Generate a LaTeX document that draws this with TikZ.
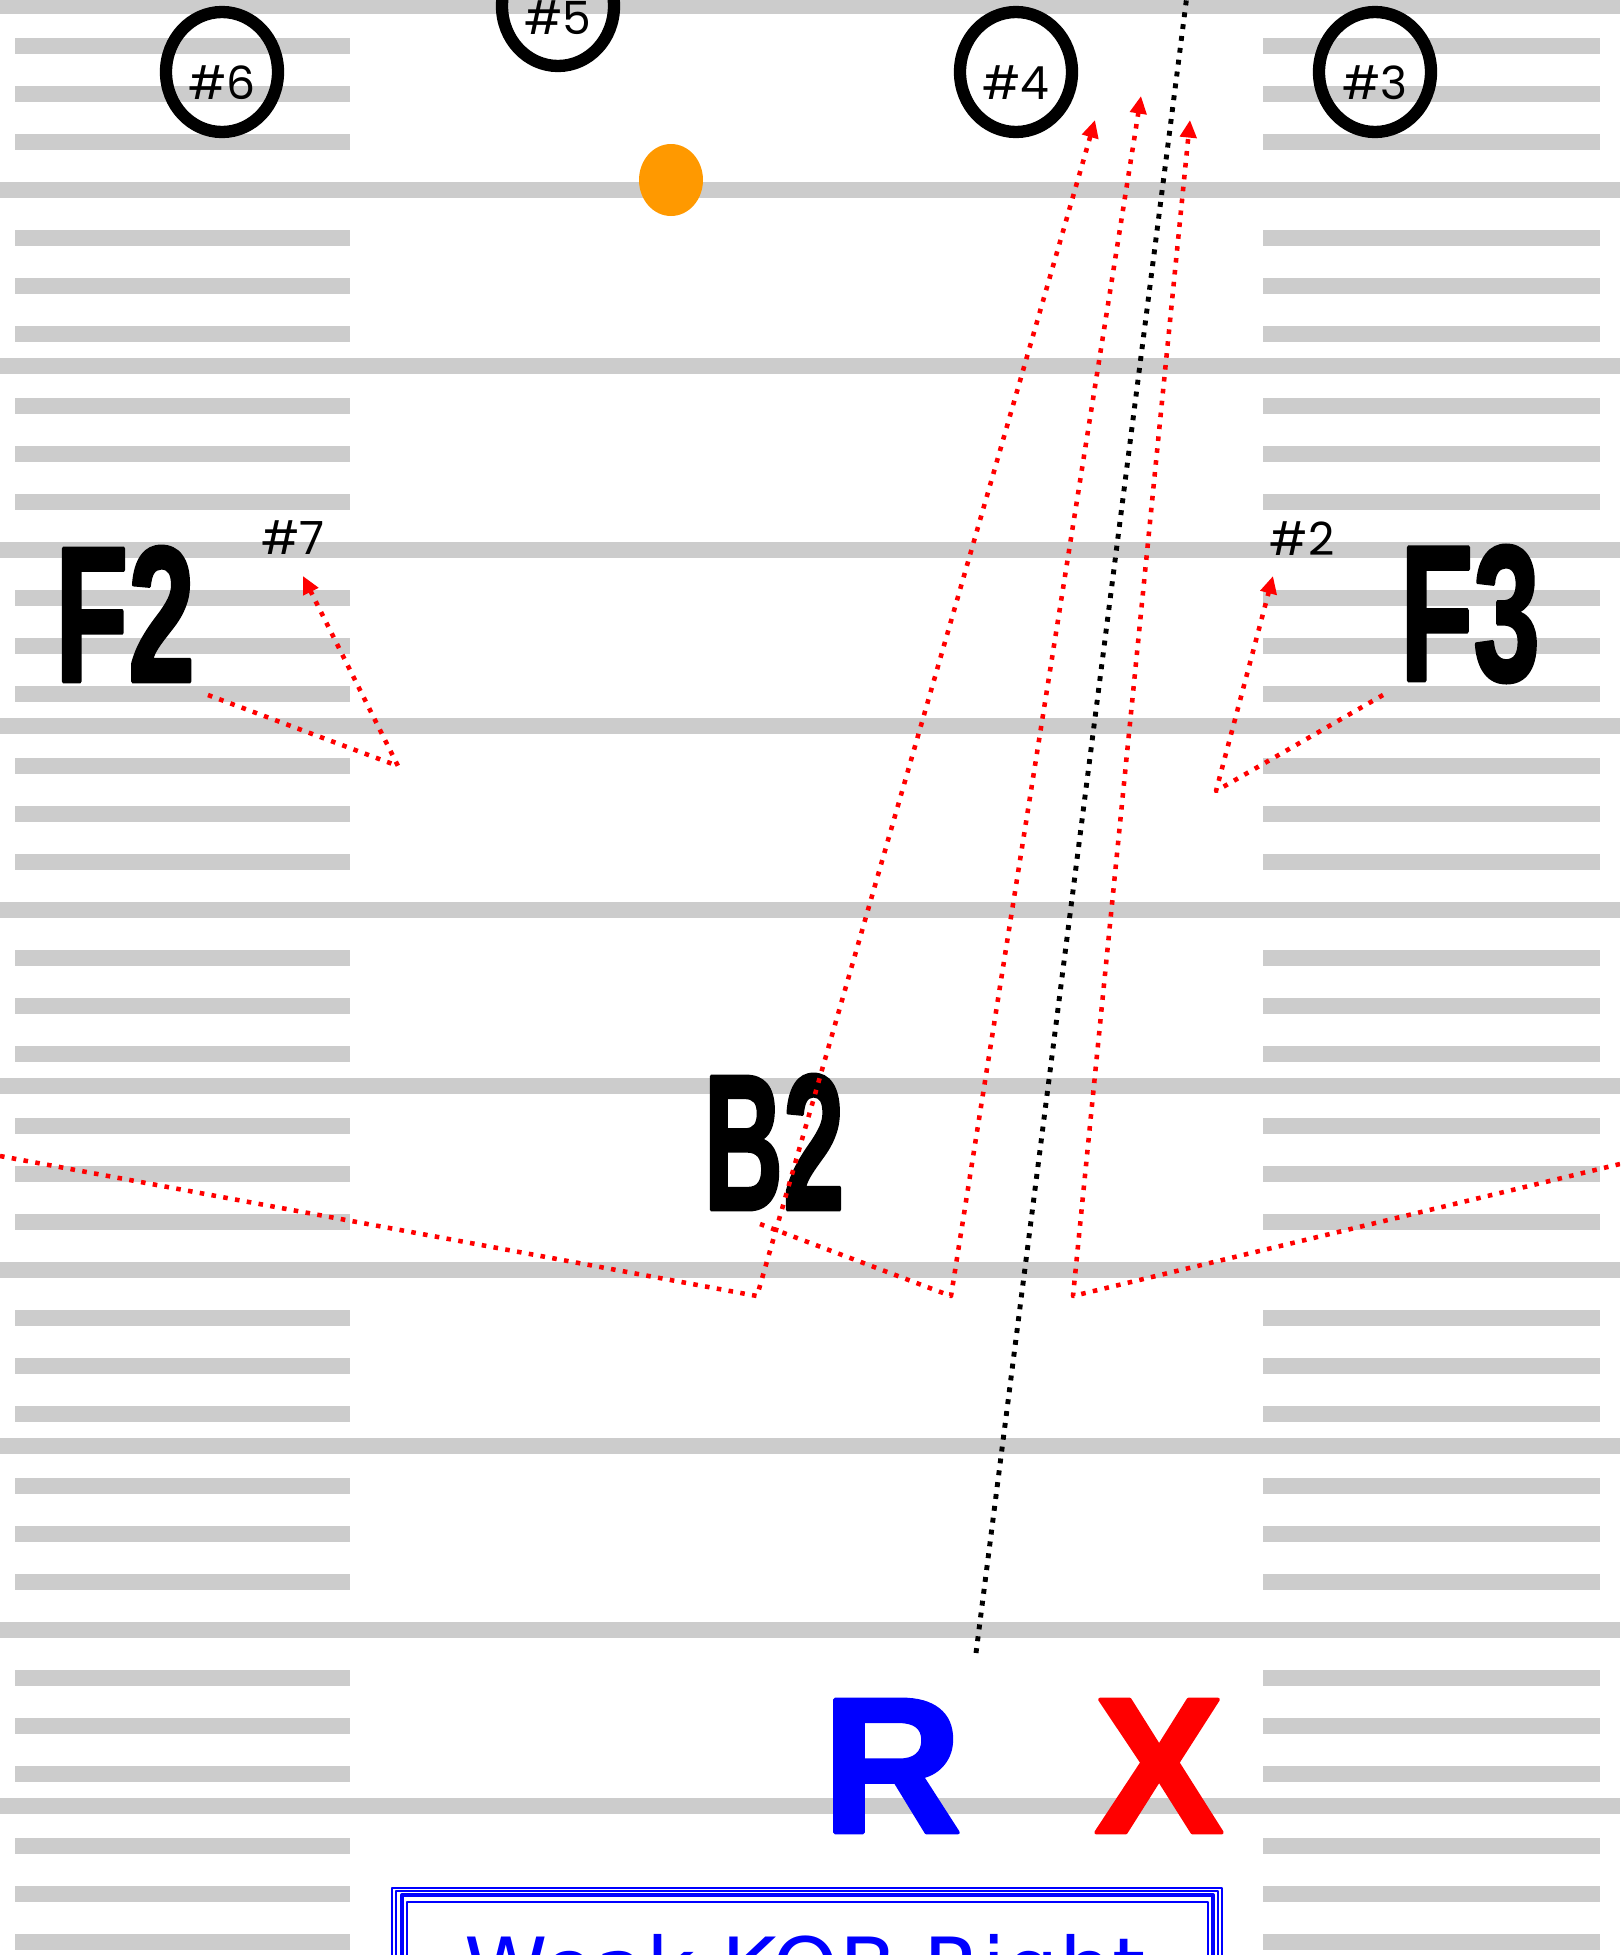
\documentclass[tikz,border=0pt]{standalone}
\usepackage{fontspec}
\usetikzlibrary{arrows.meta,shapes.geometric}
\newfontfamily\tagfont{Poppins}
\newfontfamily\posfont{Liberation Sans}[BoldFeatures={FakeBold=2}]
\newfontfamily\playfont{DejaVu Sans}
\definecolor{fieldgray}{RGB}{204,204,204}
\definecolor{routered}{RGB}{255,0,0}
\definecolor{callblue}{RGB}{0,0,255}
\definecolor{ballorange}{RGB}{255,153,0}
\tikzset{
  yardline/.style={fieldgray,line width=4.5pt,line cap=butt},
  hashline/.style={fieldgray,line width=4.5pt,line cap=butt},
  player/.style={ellipse,draw=black,line width=3.5pt,minimum width=1.12cm,minimum height=1.2cm,inner sep=0pt},
  tag/.style={font=\tagfont\fontsize{13}{13}\selectfont,inner sep=0pt},
  poslabel/.style={font=\posfont\bfseries\fontsize{55}{55}\selectfont,inner sep=0pt},
  bigletter/.style={font=\posfont\bfseries\fontsize{55}{55}\selectfont,inner sep=0pt},
  route/.style={routered,line width=1.3pt,line cap=butt,dash pattern=on 1.3pt off 2.1pt},
  motion/.style={black,line width=1.4pt,line cap=butt,dash pattern=on 1.4pt off 2pt},
  frame/.style={callblue,line cap=butt}
}

\begin{document}
\begin{tikzpicture}[line cap=round,line join=round,>={Triangle[length=5pt,width=4.6pt]},x=0.1mm,y=-0.1mm]
\useasboundingbox (0,0) rectangle (1620,1955);
\clip (0,0) rectangle (1620,1955);
\fill[white] (0,0) rectangle (1620,1955);
\foreach \b in {6,366,726,1086,1446,1806}{
  \draw[yardline] (0,\b) -- (1620,\b);
  \draw[yardline] (0,\b+184) -- (1620,\b+184);
  \foreach \k in {40,88,136,232,280,328}{
    \draw[hashline] (15,\b+\k) -- (350,\b+\k);
    \draw[hashline] (1263,\b+\k) -- (1600,\b+\k);
  }
}
\node[player,label={[tag,yshift=-0.11cm]center:\#6}] (p6) at (222,72) {};
\node[player,label={[tag,yshift=-0.12cm]center:\#5}] (p5) at (558,6) {};
\node[player,label={[tag,yshift=-0.11cm]center:\#4}] (p4) at (1016,72) {};
\node[player,label={[tag,yshift=-0.11cm]center:\#3}] (p3) at (1375,72) {};
\fill[ballorange] (671,180) ellipse (32 and 36);
\node[poslabel] (F2) at (125,614) {\scalebox{0.62}[1]{F2}};
\node[poslabel] (F3) at (1470,614) {\scalebox{0.62}[1]{F3}};
\node[poslabel] (B2) at (774,1142) {\scalebox{0.57}[1]{B2}};
\node[tag] (n7) at (293,538) {\#7};
\node[tag] (n2) at (1302,539) {\#2};
\node[bigletter,callblue] (rcall) at (892,1766) {R};
\node[bigletter,routered] (xcall) at (1159,1766) {X};
\coordinate (F2a) at (208,695);
\coordinate (F2b) at (398,766);
\coordinate (F2c) at (303,576);
\coordinate (F3a) at (1383,695);
\coordinate (F3b) at (1216,791);
\coordinate (F3c) at (1273,576);
\coordinate (La) at (0,1156);
\coordinate (Lb) at (757,1296);
\coordinate (Lc) at (1095,120);
\coordinate (B2a) at (760,1224);
\coordinate (B2b) at (951,1296);
\coordinate (B2c) at (1141,96);
\coordinate (Ra) at (1620,1164);
\coordinate (Rb) at (1073,1296);
\coordinate (Rc) at (1190,120);
\coordinate (Ma) at (976,1653);
\coordinate (Mb) at (1187,-5);
\draw[route,->] (F2a) -- (F2b) -- (F2c);
\draw[route,->] (F3a) -- (F3b) -- (F3c);
\draw[route,->] (La) -- (Lb) -- (Lc);
\draw[route,->] (B2a) -- (B2b) -- (B2c);
\draw[route,->] (Ra) -- (Rb) -- (Rc);
\draw[motion] (Ma) -- (Mb);
\draw[frame,line width=0.45pt] (392,1888) rectangle (1222,2050);
\draw[frame,line width=0.35pt] (396,1891) rectangle (1218,2050);
\draw[frame,line width=1.15pt] (402,1895) rectangle (1213,2050);
\draw[frame,line width=0.75pt] (407,1902) rectangle (1208,2050);
\node[font=\playfont\fontsize{24}{24}\selectfont,callblue,anchor=base,inner sep=0pt] (play) at (805,1998) {Weak KOB Right};
\end{tikzpicture}
\end{document}
